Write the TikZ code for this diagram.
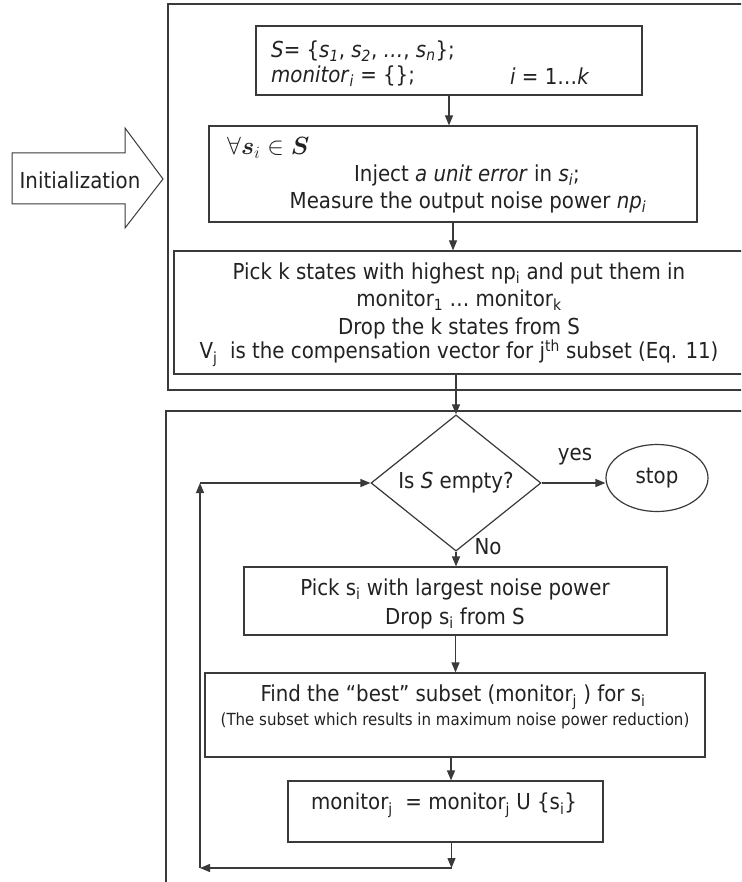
\documentclass[tikz,border=0pt]{standalone}
\usepackage{fontspec}
\setmainfont{DejaVu Sans Condensed}
\usepackage{bm}
\usetikzlibrary{arrows.meta,shapes.geometric,calc}
\definecolor{lineclr}{HTML}{3A3A3A}
\definecolor{txtclr}{HTML}{222222}

\begin{document}
\begin{tikzpicture}[x=1pt,y=-1pt,
  ink/.style={draw=lineclr, line width=1.2pt},
  box/.style={ink, rectangle, inner sep=0pt},
  lbl/.style={inner sep=0pt, text=txtclr, font=\fontsize{22}{26}\selectfont},
  smalllbl/.style={inner sep=0pt, text=txtclr, font=\fontsize{16.7}{20}\selectfont},
  arr/.style={ink, -{Triangle[length=10pt,width=8pt]}},
]
\useasboundingbox (0,0) rectangle (741,882);
\fill[white] (0,0) rectangle (741,882);
\clip (0,0) rectangle (741,882);

% ---------- initialization block arrow ----------
\draw[draw=lineclr, line width=1pt, line join=miter]
  (12,153) -- (125,153) -- (125,128) -- (163,179) -- (125,228) -- (125,204) -- (12,204) -- cycle;
\node[lbl] (inittxt) at (80,180) {Initialization};

% ---------- initialization frame ----------
\node[box, minimum width=602pt, minimum height=386pt] (topframe) at (469,197) {};

\node[box, minimum width=386pt, minimum height=69pt] (b1) at (449,60.5) {};
\node[lbl, anchor=west] (b1a) at (271,51)
  {\textit{S}= \{\textit{s}\textsubscript{\textit{1}}, \textit{s}\textsubscript{\textit{2}}, \textit{…}, \textit{s}\textsubscript{\textit{n}}\};};
\node[lbl, anchor=west] (b1b) at (271,76)
  {\textit{monitor}\textsubscript{\textit{i}} = \{\};};
\node[lbl, anchor=west] (b1c) at (510,76) {\textit{i} = 1…\textit{k}};

\node[box, minimum width=488pt, minimum height=96pt] (b2) at (453,174) {};
\node[anchor=west, inner sep=0pt, text=txtclr, font=\fontsize{24}{26}\selectfont] (forall) at (227,148)
  {$\forall \bm{s}_i \in \bm{S}$};
\node[lbl] (inj) at (467,175)
  {Inject \textit{a unit error} in \textit{s}\textsubscript{\textit{i}};};
\node[lbl] (meas) at (468,202)
  {Measure the output noise power \textit{np}\textsubscript{\textit{i}}};

\node[box, minimum width=596pt, minimum height=123pt] (b3) at (472,312.5) {};
\node[lbl] (b3a) at (459,273) {Pick k states with highest np\textsubscript{i} and put them in};
\node[lbl] (b3b) at (459,300) {monitor\textsubscript{1} … monitor\textsubscript{k}};
\node[lbl] (b3c) at (459,328) {Drop the k states from S};
\node[lbl] (b3d) at (459,353)
  {V\textsubscript{j}~ is the compensation vector for j\textsuperscript{th} subset (Eq. 11)};

\draw[arr] (b1.south) -- (b1.south |- b2.north);
\draw[arr] (b2.south) -- (b2.south |- b3.north);

% ---------- iteration frame ----------
\node[box, minimum width=604pt, minimum height=489pt] (lowframe) at (468,655.5) {};

\node[ink, diamond, minimum width=170pt, minimum height=105pt, inner sep=0pt,
      text=txtclr, font=\fontsize{22}{26}\selectfont] (dia) at (456,483) {Is \textit{S} empty?};
\node[ink, ellipse, minimum width=102pt, minimum height=67pt, inner sep=0pt,
      text=txtclr, font=\fontsize{22}{26}\selectfont] (stop) at (657,478) {stop};
\node[lbl] (yes) at (575,457) {yes};
\node[lbl] (no) at (488,547) {No};

\node[box, minimum width=423pt, minimum height=68pt] (b4) at (455.5,601) {};
\node[lbl] (b4a) at (455,589) {Pick s\textsubscript{i} with largest noise power};
\node[lbl] (b4b) at (455,618) {Drop s\textsubscript{i} from S};

\node[box, minimum width=500pt, minimum height=84pt] (b5) at (455,715) {};
\node[lbl] (b5a) at (453,697) {Find the “best” subset (monitor\textsubscript{j} ) for s\textsubscript{i}};
\node[smalllbl] (b5b) at (455,721) {(The subset which results in maximum noise power reduction)};

\node[box, minimum width=315pt, minimum height=61pt] (b6) at (445.5,811.5) {};
\node[lbl] (b6a) at (444,805) {monitor\textsubscript{j}~ = monitor\textsubscript{j} U \{s\textsubscript{i}\}};

\coordinate (loopB) at (200,868);
\coordinate (loopT) at (200,483);

\draw[arr] (dia.north |- b3.south) -- (dia.north);
\draw[arr] (dia.east) -- (dia.east -| stop.west);
\draw[arr] (dia.south) -- (dia.south |- b4.north);
\draw[arr] (b4.south) -- (b4.south |- b5.north);
\draw[arr] (b6.north -| b5.south) ++(-4,0) coordinate (b56) (b5.south -| b56) -- (b56 |- b6.north);
\draw[arr] (b6.south) ++(6,0) coordinate (b6o) (b6.south -| b6o) -- (b6o |- loopB);
\draw[arr] (b6o |- loopB) -- (loopB);
\draw[arr] (loopB) -- (loopT);
\draw[arr] (loopT) -- (dia.west);
\end{tikzpicture}
\end{document}
